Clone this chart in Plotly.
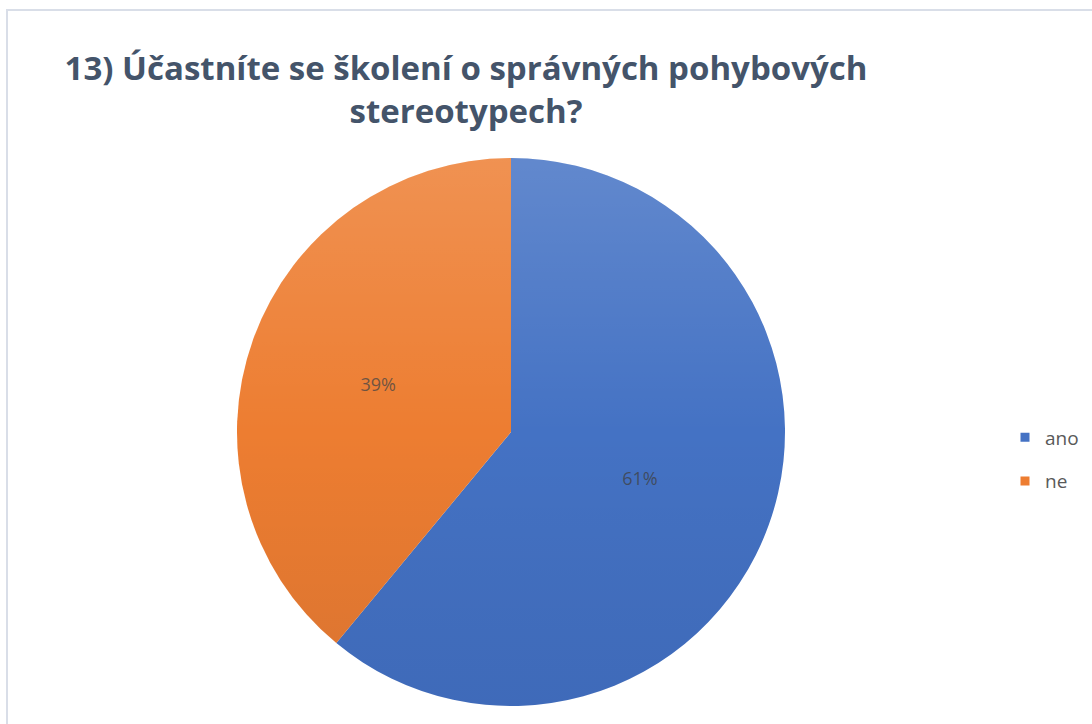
import base64
import plotly.graph_objects as go

# Survey answers and their shares (percent)
labels = ["ano", "ne"]
values = [61, 39]
colors = ["#4472C4", "#ED7D31"]

W, H = 1092, 724
FONT = "Open Sans, Lato, sans-serif"

# Pie occupies a square domain (in pixels: 237..785 wide, full plot height)
pie_x0, pie_x1 = 237 / W, 785 / W

fig = go.Figure()
fig.add_trace(
    go.Pie(
        labels=labels,
        values=values,
        sort=False,
        direction="clockwise",
        rotation=0,
        marker=dict(colors=colors, line=dict(width=0)),
        texttemplate="%{percent:.0%}",
        textposition="inside",
        insidetextorientation="horizontal",
        textfont=dict(family=FONT, size=18, color="rgba(64,64,64,0.75)"),
        domain=dict(x=[pie_x0, pie_x1], y=[0, 1]),
        hoverinfo="label+percent",
        showlegend=False,
    )
)

# Legend entries (one group per answer so the gap between rows can be set)
for lab, col in zip(labels, colors):
    fig.add_trace(
        go.Scatter(
            x=[None],
            y=[None],
            mode="markers",
            name=lab,
            legendgroup=lab,
            marker=dict(symbol="square", size=9, color=col),
            hoverinfo="skip",
        )
    )

# Soft vertical shading over the pie (light at top, darker at bottom)
shade_svg = (
    '<svg xmlns="http://www.w3.org/2000/svg" width="200" height="200" viewBox="0 0 200 200">'
    '<defs><linearGradient id="g" x1="0" y1="0" x2="0" y2="1">'
    '<stop offset="0" stop-color="#ffffff" stop-opacity="0.16"/>'
    '<stop offset="0.5" stop-color="#ffffff" stop-opacity="0"/>'
    '<stop offset="0.5" stop-color="#000000" stop-opacity="0"/>'
    '<stop offset="1" stop-color="#001040" stop-opacity="0.08"/>'
    '</linearGradient></defs>'
    '<circle cx="100" cy="100" r="100" fill="url(#g)"/></svg>'
)
shade_src = "data:image/svg+xml;base64," + base64.b64encode(shade_svg.encode()).decode()

fig.update_layout(
    width=W,
    height=H,
    margin=dict(l=0, r=0, t=158, b=18),
    paper_bgcolor="white",
    plot_bgcolor="white",
    xaxis=dict(visible=False),
    yaxis=dict(visible=False),
    title=dict(
        text="13) Účastníte se školení o správných pohybových<br>stereotypech?",
        x=466 / W,
        xanchor="center",
        y=1 - 80 / H,
        yanchor="top",
        font=dict(family=FONT, size=33, color="#44546A", weight="bold"),
    ),
    legend=dict(
        x=1005 / W,
        xanchor="left",
        y=(706 - 459.5) / 548,
        yanchor="middle",
        font=dict(family=FONT, size=19, color="#595959"),
        bgcolor="rgba(0,0,0,0)",
        traceorder="grouped",
        tracegroupgap=16,
    ),
    images=[
        dict(
            source=shade_src,
            xref="paper",
            yref="paper",
            x=pie_x0,
            y=1,
            sizex=pie_x1 - pie_x0,
            sizey=1,
            xanchor="left",
            yanchor="top",
            sizing="stretch",
            layer="above",
        )
    ],
    shapes=[
        dict(
            type="rect",
            xref="paper",
            yref="paper",
            x0=7 / W,
            x1=1.02,
            y0=-0.05,
            y1=1 + (158 - 10) / (H - 158 - 18),
            line=dict(color="#D9DEE8", width=2),
            fillcolor="rgba(0,0,0,0)",
            layer="below",
        )
    ],
)

fig.write_html("out.html")
